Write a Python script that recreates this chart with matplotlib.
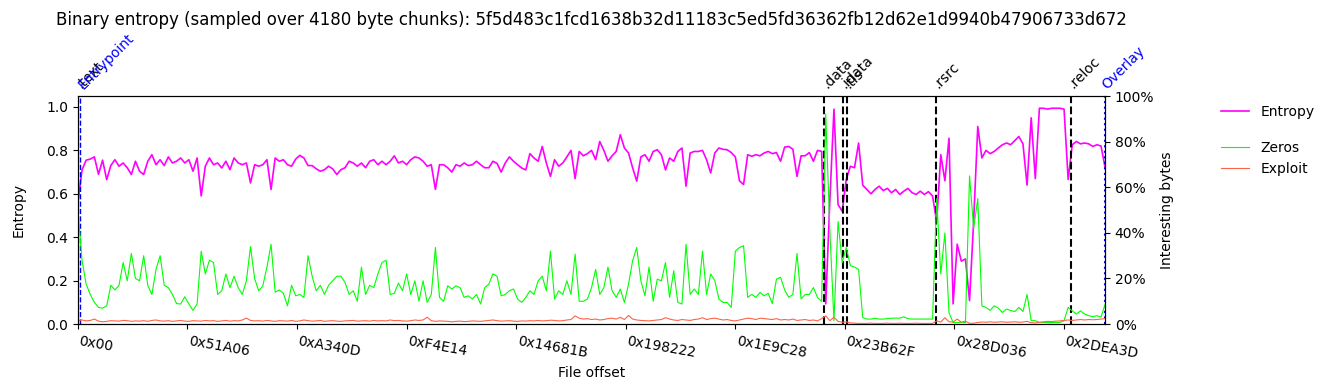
import numpy as np
import matplotlib
matplotlib.use('Agg')
import matplotlib.pyplot as plt
import matplotlib.transforms as mtransforms

sha256 = '5f5d483c1fcd1638b32d11183c5ed5fd36362fb12d62e1d9940b47906733d672'
chunk = 4180
file_size = 0x2FD400
stride = 3  # every third chunk

# entropy per chunk (0..1)
entropy = [
    0.56, 0.71, 0.755, 0.76, 0.77, 0.69, 0.755, 0.665, 0.73, 0.757,
    0.727, 0.742, 0.72, 0.689, 0.75, 0.704, 0.689, 0.75, 0.78, 0.734,
    0.757, 0.73, 0.77, 0.742, 0.75, 0.765, 0.742, 0.757, 0.704, 0.765,
    0.59, 0.727, 0.765, 0.734, 0.742, 0.719, 0.75, 0.711, 0.765, 0.742,
    0.734, 0.742, 0.65, 0.734, 0.727, 0.734, 0.757, 0.62, 0.765, 0.75,
    0.757, 0.734, 0.727, 0.76, 0.777, 0.765, 0.73, 0.73, 0.715, 0.704,
    0.711, 0.727, 0.715, 0.689, 0.711, 0.72, 0.75, 0.742, 0.727, 0.742,
    0.72, 0.75, 0.757, 0.734, 0.75, 0.734, 0.75, 0.775, 0.742, 0.75,
    0.734, 0.757, 0.77, 0.765,
    0.75, 0.727, 0.734, 0.62, 0.734, 0.734, 0.72, 0.70, 0.734, 0.727,
    0.742, 0.73, 0.734, 0.75, 0.734, 0.72, 0.72, 0.75, 0.74, 0.70,
    0.742, 0.77, 0.75, 0.734, 0.719, 0.71, 0.785, 0.765, 0.75, 0.818,
    0.742, 0.68, 0.757, 0.727, 0.742, 0.77, 0.80, 0.67, 0.795, 0.775,
    0.785, 0.80, 0.757, 0.841, 0.80, 0.75, 0.775, 0.795, 0.872, 0.811,
    0.788, 0.72, 0.658, 0.77, 0.78, 0.75, 0.795, 0.803, 0.78, 0.71,
    0.765, 0.75, 0.795, 0.811, 0.635, 0.788, 0.795, 0.795, 0.80, 0.757,
    0.696, 0.788, 0.811, 0.805, 0.803, 0.79, 0.77, 0.66, 0.643, 0.78,
    0.773, 0.78, 0.775, 0.788,
    0.795, 0.785, 0.79, 0.75, 0.815, 0.818, 0.805, 0.68, 0.775, 0.775,
    0.79, 0.75, 0.80, 0.795, 0.093, 0.57, 0.99, 0.55, 0.52, 0.666,
    0.727, 0.72, 0.834, 0.64, 0.62, 0.60, 0.62, 0.635, 0.615, 0.625,
    0.605, 0.62, 0.597, 0.612, 0.625, 0.605, 0.597, 0.612, 0.597, 0.61,
    0.59, 0.47, 0.78, 0.66, 0.856, 0.093, 0.368, 0.29, 0.30, 0.108,
    0.475, 0.91, 0.765, 0.80, 0.785, 0.795, 0.811, 0.826, 0.834, 0.826,
    0.845, 0.864, 0.83, 0.64, 0.95, 0.67, 0.994, 0.994, 0.99, 0.994,
    0.994, 0.994, 0.99, 0.666, 0.826, 0.841, 0.83, 0.834, 0.83, 0.818,
    0.826, 0.82, 0.72,
]

# share of zero bytes per chunk (%)
zeros = [
    50, 28, 17.5, 13, 9.5, 7.3, 7, 8, 17, 15,
    17, 27, 19, 31, 20, 19, 30, 17, 13, 24,
    30, 17, 16, 13, 9, 8.8, 12, 8.8, 6, 8.8,
    32, 22, 28, 27, 13, 14.6, 22, 16, 21, 16,
    13, 19, 34, 20, 14.6, 16.8, 25, 35, 14, 15,
    13.5, 8, 17, 12.4, 13, 11.7, 30, 21, 14.6, 17,
    13, 17, 19, 21, 21, 18.3, 13, 14.6, 10, 25,
    13, 17, 16, 22, 27, 28, 13, 13.5, 18, 14.6,
    22, 13, 19, 10,
    19, 9.5, 13, 33.6, 11.7, 10, 16.8, 15.4, 16.8, 16,
    11.7, 12.4, 11, 13, 8.8, 16, 17.5, 22, 21, 12.4,
    13, 14.6, 15.4, 11, 9.5, 11.7, 14.6, 13, 19, 21,
    14.6, 32, 11, 14.6, 13, 19, 13, 30.7, 10, 10,
    11, 16, 24, 13, 16, 25, 14.6, 11.7, 15.4, 9.5,
    17.5, 27.8, 33.6, 19, 12.4, 25, 10, 19.7, 19, 27,
    11.7, 23.4, 9.5, 8.8, 35, 13, 15.4, 13, 32, 13,
    22, 19, 11, 9.5, 9.5, 7.3, 32, 33.6, 34.4, 11.7,
    13, 11.7, 13.9, 12.4,
    13.5, 9, 19.7, 20.5, 15, 11.7, 13, 31, 11, 13,
    13, 16, 11.7, 10, 92, 41, 1.5, 45, 27, 33.6,
    25.6, 25, 24, 2.9, 2.2, 2.2, 2.5, 2.2, 2.2, 2.4,
    2.6, 2.6, 2.6, 3.2, 2.4, 2.2, 2.2, 2.2, 2.2, 2.2,
    2.2, 55, 22, 40, 5, 0.7, 0.7, 0.7, 0.7, 65,
    42, 55, 8, 7.3, 6, 8, 7, 5.1, 6.6, 6,
    5.5, 7.3, 5.5, 13, 1.5, 1.5, 0.7, 0.7, 0.7, 0.7,
    0.7, 0.7, 1.5, 7.3, 5.8, 4.4, 5.8, 4.4, 3.7, 3.2,
    3.7, 3, 8.8,
]

# share of exploit-like bytes per chunk (%)
exploit = [
    1.5, 1.8, 1.4, 1.6, 2.2, 1.3, 1.0, 1.2, 1.5, 1.4,
    1.3, 1.6, 1.5, 1.2, 1.4, 1.3, 1.5, 1.2, 1.6, 1.8,
    1.4, 1.3, 1.5, 1.2, 1.4, 1.6, 1.3, 1.2, 1.5, 1.4,
    1.3, 1.6, 1.4, 1.5, 1.2, 1.4, 1.6, 1.3, 1.5, 1.4,
    1.8, 2.6, 1.6, 1.4, 1.5, 1.3, 1.6, 1.4, 1.2, 1.5,
    1.4, 1.3, 1.6, 1.2, 1.4, 1.8, 1.5, 1.3, 1.4, 1.6,
    1.2, 1.4, 1.5, 1.3, 1.2, 1.4, 1.5, 1.6, 1.3, 1.4,
    1.5, 1.3, 1.6, 1.4, 1.5, 1.4, 1.8, 1.5, 1.6, 1.4,
    1.3, 1.5, 1.8, 1.6,
    1.8, 3.0, 1.5, 1.2, 1.4, 1.3, 1.2, 1.0, 1.2, 1.3,
    1.1, 1.2, 1.4, 1.3, 1.2, 1.4, 1.6, 1.8, 1.5, 1.3,
    1.4, 1.5, 1.3, 1.2, 1.4, 1.3, 1.5, 1.4, 1.6, 1.4,
    1.5, 1.7, 1.6, 1.4, 1.5, 1.8, 2.0, 3.6, 2.6, 2.2,
    2.4, 2.0, 2.2, 1.8, 2.0, 2.4, 2.6, 2.2, 3.0, 2.0,
    3.8, 2.2, 1.8, 1.6, 1.5, 1.4, 1.6, 1.8, 2.0, 2.8,
    2.2, 1.8, 1.6, 2.0, 1.8, 1.6, 2.0, 2.2, 2.8, 2.0,
    2.4, 2.6, 2.2, 1.8, 2.0, 1.6, 1.4, 1.8, 2.2, 2.6,
    2.4, 2.0, 2.6, 2.4,
    2.2, 2.0, 2.4, 1.8, 2.0, 1.8, 2.2, 1.6, 1.8, 2.0,
    1.6, 1.8, 1.4, 2.4, 3.6, 1.5, 3.0, 1.2, 0.8, 1.0,
    0.5, 0.4, 0.3, 0.3, 0.3, 0.4, 0.3, 0.3, 0.3, 0.4,
    0.3, 0.3, 0.4, 0.3, 0.3, 0.3, 0.4, 0.3, 0.3, 0.3,
    0.3, 1.4, 0.9, 2.8, 1.0, 0.9, 2.2, 0.8, 1.3, 0.3,
    0.4, 0.7, 0.9, 0.8, 1.0, 0.8, 0.9, 1.0, 0.8, 0.9,
    1.0, 0.8, 0.9, 1.2, 0.6, 0.5, 0.8, 1.0, 1.2, 1.1,
    1.3, 1.4, 1.6, 1.8, 1.6, 1.8, 2.0, 1.8, 2.0, 1.9,
    2.0, 2.2, 2.4,
]

sections = ['.text', '.data', '.idata', '.tls', '.rsrc', '.reloc']
section_offsets = [0x400, 0x22C200, 0x239C00, 0x23CC00, 0x27F000, 0x2E3E00]
entrypoint = 0x1C00
overlay = 0x2FD000

xtick_labels = ['0x00', '0x51A06', '0xA340D', '0xF4E14', '0x14681B',
                '0x198222', '0x1E9C28', '0x23B62F', '0x28D036', '0x2DEA3D']

offsets = np.arange(len(entropy)) * stride * chunk

fig = plt.figure(figsize=(13.3, 3.9), dpi=100)
ax = fig.add_axes([0.0586, 0.169, 0.7722, 0.5846])
ax2 = ax.twinx()

l1, = ax.plot(offsets, entropy, color='magenta', lw=1.2, label='Entropy')
l2, = ax2.plot(offsets, zeros, color='lime', lw=0.8, label='Zeros')
l3, = ax2.plot(offsets, exploit, color='tomato', lw=0.8, label='Exploit')

trans = mtransforms.blended_transform_factory(ax.transData, ax.transAxes)
trans = mtransforms.offset_copy(trans, fig=fig, x=5, y=0, units='dots')
for name, off in zip(sections, section_offsets):
    ax.axvline(off, color='black', ls='--', lw=1.5)
    ax.text(off, 1.02, name, transform=trans, rotation=45,
            rotation_mode='anchor', ha='left', va='bottom', fontsize=10)

ax.axvline(entrypoint, color='blue', ls='--', lw=1)
ax.text(entrypoint, 1.02, 'Entrypoint', transform=trans, rotation=45,
        rotation_mode='anchor', ha='left', va='bottom', color='blue', fontsize=10)
ax.axvline(overlay, color='blue', ls=':', lw=1.5)
ax.text(overlay, 1.02, 'Overlay', transform=trans, rotation=45,
        rotation_mode='anchor', ha='left', va='bottom', color='blue', fontsize=10)

ax.set_xlim(0, file_size)
ax.set_ylim(0, 1.05)
ax.set_yticks([0, 0.2, 0.4, 0.6, 0.8, 1.0])
ax2.set_ylim(0, 100)
ax2.set_yticks([0, 20, 40, 60, 80, 100])
ax2.set_yticklabels(['%d%%' % v for v in [0, 20, 40, 60, 80, 100]])

ax.set_xticks([int(s, 16) for s in xtick_labels])
ax.set_xticklabels(xtick_labels, rotation=-10, ha='left')

ax.set_xlabel('File offset')
ax.set_ylabel('Entropy', labelpad=15)
ax2.set_ylabel('Interesting bytes')
ax.set_title('Binary entropy (sampled over %d byte chunks): %s' % (chunk, sha256),
             y=1.31, pad=0, fontsize=12)

fig.legend(handles=[l1], loc='center left', bbox_to_anchor=(0.909, 0.713), frameon=False)
fig.legend(handles=[l2, l3], loc='center left', bbox_to_anchor=(0.909, 0.594), frameon=False)

fig.savefig('out.png', dpi=100)
